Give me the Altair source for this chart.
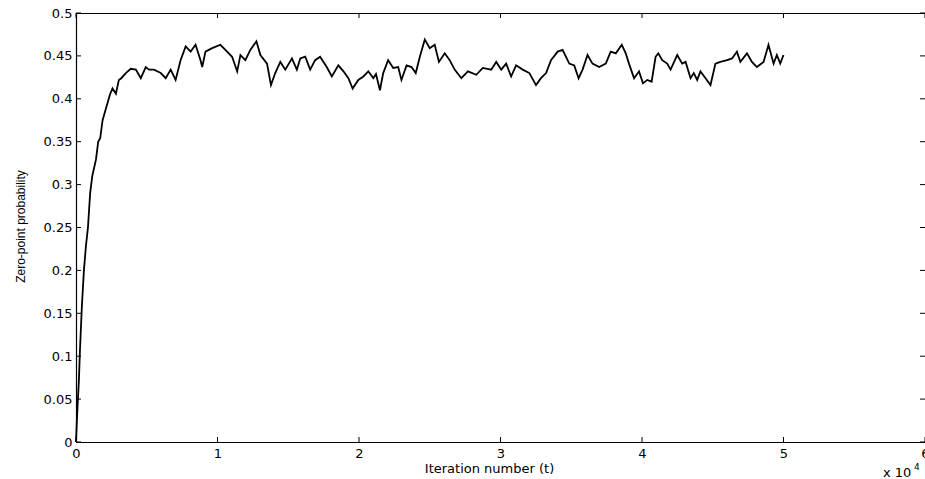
import altair as alt
import pandas as pd

# Iteration number (t) and zero-point probability
iterations = [
    0, 50, 120, 200, 280, 420, 560, 700, 845, 1000, 1150, 1410, 1570, 1710, 1880,
    2050, 2230, 2400, 2580, 2820, 3030, 3200, 3520, 3870, 4230, 4580, 4930, 5160,
    5510, 5990, 6340, 6690, 7040, 7390, 7750, 8100, 8450, 8800, 8920, 9150, 9620,
    10200, 10560, 11030, 11390, 11620, 11970, 12320, 12750, 13030, 13500, 13780,
    14080, 14440, 14790, 15260, 15610, 15850, 16200, 16550, 16900, 17250, 17720,
    18080, 18540, 18900, 19250, 19550, 19950, 20310, 20660, 21010, 21200, 21480,
    21710, 22060, 22420, 22770, 23000, 23360, 23710, 24010, 24300, 24650, 25000,
    25350, 25650, 26060, 26410, 26760, 27230, 27700, 28290, 28750, 29340, 29700,
    30050, 30400, 30750, 31100, 31570, 32040, 32510, 32860, 33220, 33570, 34040,
    34390, 34860, 35210, 35520, 35800, 36150, 36500, 36970, 37440, 37790, 38150,
    38570, 38850, 39080, 39440, 39790, 40070, 40370, 40680, 40960, 41150, 41430,
    41780, 42020, 42490, 42840, 43080, 43430, 43660, 43900, 44130, 44490, 44840,
    45190, 45540, 46010, 46360, 46710, 46950, 47420, 47770, 48120, 48590, 48940,
    49300, 49530, 49770, 50000,
]
probability = [
    0.0, 0.02, 0.045, 0.07, 0.107, 0.16, 0.2, 0.228, 0.25, 0.29, 0.31, 0.329, 0.35, 0.354, 0.375,
    0.385, 0.395, 0.405, 0.412, 0.406, 0.422, 0.424, 0.43, 0.435, 0.434, 0.424, 0.437, 0.434,
    0.434, 0.43, 0.424, 0.434, 0.422, 0.445, 0.461, 0.455, 0.463, 0.445, 0.437, 0.455, 0.459,
    0.463, 0.457, 0.449, 0.432, 0.451, 0.445, 0.457, 0.467, 0.451, 0.441, 0.416,
    0.43, 0.443, 0.434, 0.447, 0.434, 0.447, 0.449, 0.434, 0.445, 0.449, 0.437,
    0.426, 0.439, 0.432, 0.424, 0.412, 0.422, 0.426, 0.432, 0.424, 0.429, 0.41,
    0.43, 0.445, 0.436, 0.437, 0.422, 0.439, 0.437, 0.43, 0.449, 0.469, 0.459,
    0.463, 0.443, 0.453, 0.445, 0.434, 0.424, 0.432, 0.428, 0.436, 0.434, 0.443,
    0.434, 0.441, 0.426, 0.439, 0.434, 0.43, 0.416, 0.424, 0.43, 0.445, 0.455,
    0.457, 0.441, 0.439, 0.424, 0.434, 0.451, 0.441, 0.437, 0.441, 0.455, 0.453,
    0.463, 0.453, 0.441, 0.424, 0.432, 0.418, 0.422, 0.42, 0.449, 0.453, 0.445,
    0.441, 0.434, 0.451, 0.441, 0.443, 0.424, 0.43, 0.422, 0.432, 0.424, 0.416,
    0.441, 0.443, 0.445, 0.447, 0.455, 0.443, 0.453, 0.443, 0.437, 0.443, 0.463,
    0.441, 0.451, 0.441, 0.451,
]
assert len(iterations) == len(probability)

x_ticks = [0, 10000, 20000, 30000, 40000, 50000, 60000]
y_ticks = [0, 0.05, 0.1, 0.15, 0.2, 0.25, 0.3, 0.35, 0.4, 0.45, 0.5]

W, H = 849, 429
LBL_FONT = "DejaVu Sans"

df = pd.DataFrame({"t": iterations, "p": probability})
xt = pd.DataFrame({"t": x_ticks})
yt = pd.DataFrame({"p": y_ticks})

xs = alt.Scale(domain=[0, 60000], nice=False, zero=False)
ys = alt.Scale(domain=[0, 0.5], nice=False, zero=False)

x_axis = alt.Axis(
    values=x_ticks, labelExpr="datum.value / 10000", ticks=False,
    labelPadding=5, labelFlush=False, labelOverlap=False,
    title="Iteration number (t)", titleFont=LBL_FONT, titleFontSize=13,
    titleFontWeight="normal", titleX=413, titleY=30, titleAlign="center",
    titleBaseline="alphabetic", grid=False)
y_axis = alt.Axis(
    values=y_ticks, format=".2~f", ticks=False, labelPadding=4,
    labelOverlap=False, labelFlush=False,
    title="Zero-point probability", titleFont="Liberation Sans", titleFontSize=12,
    titleFontWeight="normal", titleAngle=270, titleX=-52, titleY=213,
    titleAlign="center", titleBaseline="alphabetic", grid=False)

line = alt.Chart(df).mark_line(color="black", strokeWidth=1.8).encode(
    x=alt.X("t:Q", scale=xs, axis=x_axis, title="Iteration number (t)"),
    y=alt.Y("p:Q", scale=ys, axis=y_axis, title="Zero-point probability"),
)

bottom_ticks = alt.Chart(xt).mark_rule(color="black", strokeWidth=1).encode(
    x=alt.X("t:Q", scale=xs, axis=x_axis, title="Iteration number (t)"),
    y=alt.value(H), y2=alt.value(H - 5))
top_ticks = alt.Chart(xt).mark_rule(color="black", strokeWidth=1).encode(
    x=alt.X("t:Q", scale=xs, axis=x_axis, title="Iteration number (t)"),
    y=alt.value(0), y2=alt.value(5))
left_ticks = alt.Chart(yt).mark_rule(color="black", strokeWidth=1).encode(
    y=alt.Y("p:Q", scale=ys, axis=y_axis, title="Zero-point probability"),
    x=alt.value(0), x2=alt.value(5))
right_ticks = alt.Chart(yt).mark_rule(color="black", strokeWidth=1).encode(
    y=alt.Y("p:Q", scale=ys, axis=y_axis, title="Zero-point probability"),
    x=alt.value(W - 5), x2=alt.value(W))

exp_df = pd.DataFrame({"base": ["x 10"], "sup": ["4"]})
exp_base = alt.Chart(exp_df).mark_text(
    font=LBL_FONT, fontSize=13, align="left", baseline="alphabetic", color="black"
).encode(text="base:N", x=alt.value(807), y=alt.value(464))
exp_sup = alt.Chart(exp_df).mark_text(
    font=LBL_FONT, fontSize=9, align="left", baseline="alphabetic", color="black"
).encode(text="sup:N", x=alt.value(838), y=alt.value(457))

chart = alt.layer(
    line, bottom_ticks, top_ticks, left_ticks, right_ticks, exp_base, exp_sup
).properties(
    width=W, height=H,
    autosize=alt.AutoSizeParams(type="none"),
    padding={"left": 76, "top": 13, "right": 0, "bottom": 37},
    background="white",
).configure_view(
    stroke="black", strokeWidth=1
).configure_axis(
    labelFont=LBL_FONT, labelFontSize=13, labelColor="black",
    domainColor="black", domainWidth=1.2, titleColor="black",
)

chart.save("out.html", embed_options={"renderer": "svg", "actions": False})
